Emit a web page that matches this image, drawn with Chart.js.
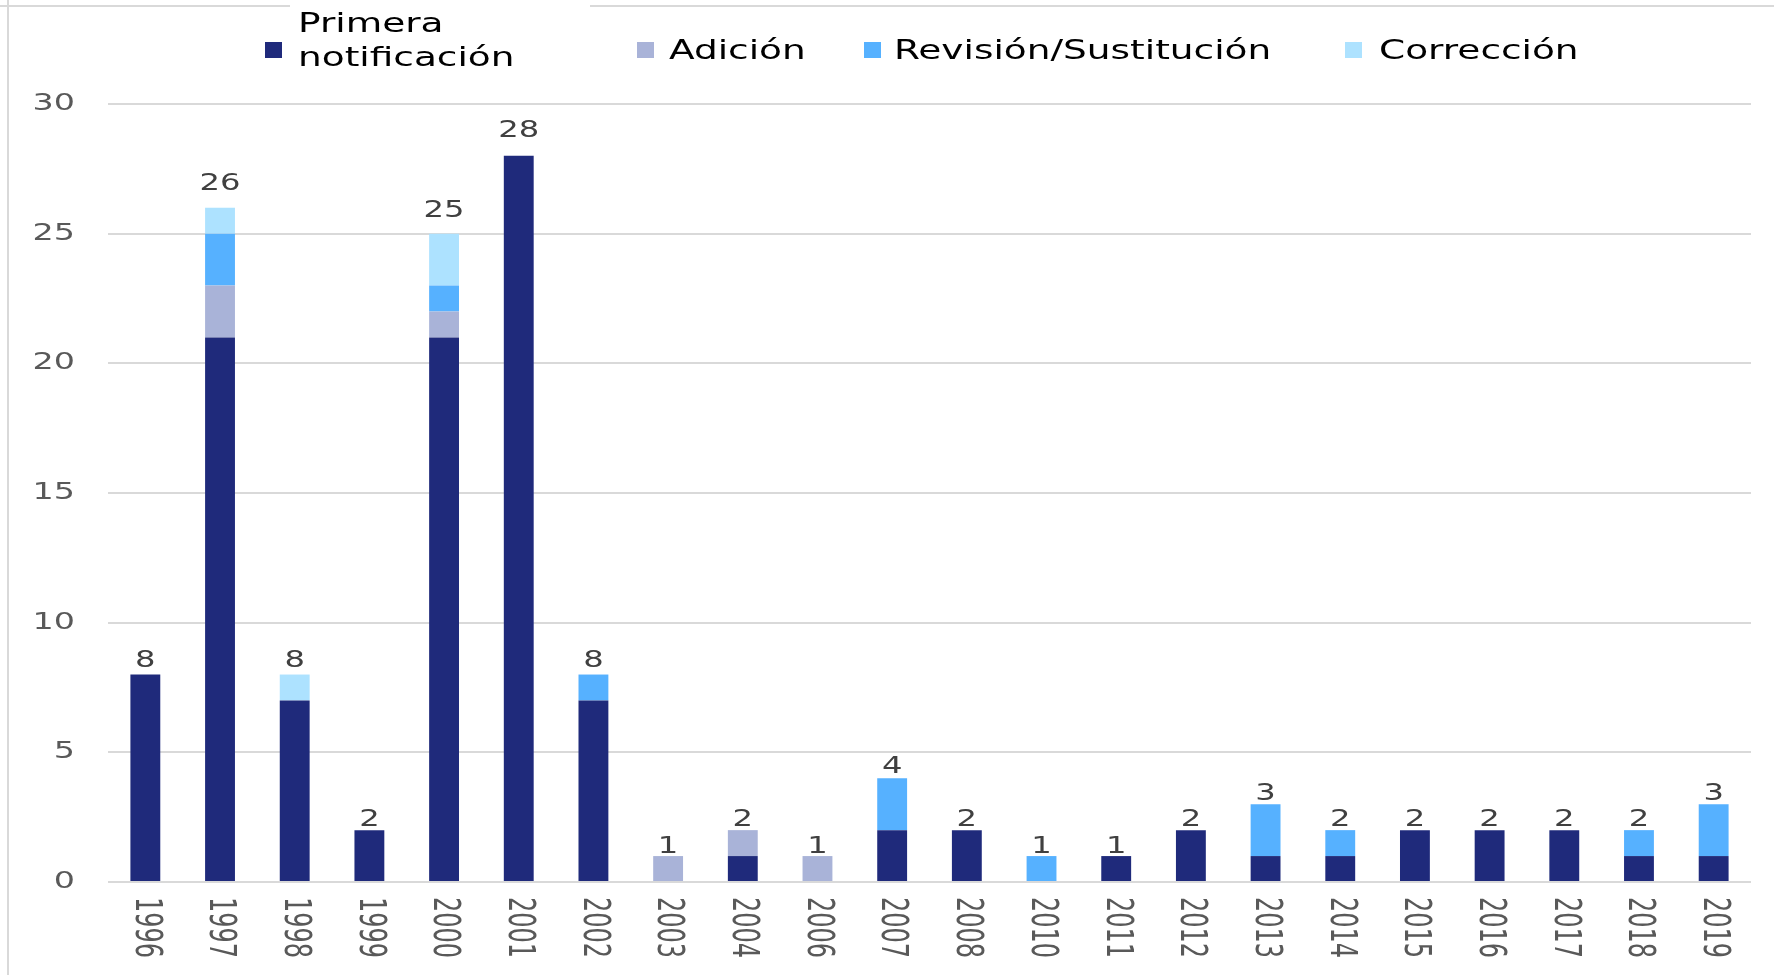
<!DOCTYPE html>
<html>
<head>
<meta charset="utf-8">
<script src="https://cdn.jsdelivr.net/npm/chart.js@4"></script>
<style>
html,body{margin:0;padding:0;background:#fff;}
#c{display:block;}
</style>
</head>
<body>
<canvas id="c" width="1774" height="975"></canvas>
<script>
const categories = ['1996','1997','1998','1999','2000','2001','2002','2003','2004','2006','2007','2008','2010','2011','2012','2013','2014','2015','2016','2017','2018','2019'];
const seriesNames = ['Primera notificación','Adición','Revisión/Sustitución','Corrección'];
const primera    = [8,21,7,2,21,28,7,0,1,0,2,2,0,1,2,1,1,2,2,2,1,1];
const adicion    = [0,2,0,0,1,0,0,1,1,1,0,0,0,0,0,0,0,0,0,0,0,0];
const revision   = [0,2,0,0,1,0,1,0,0,0,2,0,1,0,0,2,1,0,0,0,1,2];
const correccion = [0,1,1,0,2,0,0,0,0,0,0,0,0,0,0,0,0,0,0,0,0,0];
const yTicks = [0,5,10,15,20,25,30];

const colors = ['#1F2A7B','#A9B3D8','#56B1FF','#ADE2FF'];
const SX = 1.4;
const FONT = 'DejaVu Sans';

function sText(ctx, text, x, y, opt) {
  ctx.save();
  ctx.translate(x, y);
  ctx.scale(opt.sx || SX, 1);
  if (opt.rot) ctx.rotate(opt.rot);
  ctx.font = opt.font;
  ctx.fillStyle = opt.color;
  ctx.textAlign = opt.align || 'left';
  ctx.textBaseline = opt.baseline || 'alphabetic';
  ctx.fillText(text, 0, 0);
  ctx.restore();
}

const customDraw = {
  id: 'customDraw',
  beforeDraw(chart) {
    const ctx = chart.ctx;
    ctx.save();
    ctx.fillStyle = '#fff';
    ctx.fillRect(0, 0, chart.width, chart.height);
    ctx.strokeStyle = '#d9d9d9';
    ctx.lineWidth = 2;
    ctx.beginPath();
    ctx.moveTo(8, 0); ctx.lineTo(8, 975);
    ctx.moveTo(0, 6); ctx.lineTo(290, 6);
    ctx.moveTo(590, 6); ctx.lineTo(1774, 6);
    ctx.stroke();
    ctx.restore();
  },
  afterDraw(chart) {
    const ctx = chart.ctx;
    const xs = chart.scales.x, ys = chart.scales.y;
    // y tick labels
    yTicks.forEach(v => {
      sText(ctx, String(v), 75, ys.getPixelForValue(v), {font: '23px ' + FONT, color: '#595959', align: 'right', baseline: 'middle', sx: 1.45});
    });
    // x tick labels, rotated clockwise
    categories.forEach((c, i) => {
      sText(ctx, c, xs.getPixelForValue(i), 897, {font: '24px ' + FONT, color: '#595959', align: 'left', baseline: 'middle', rot: Math.PI / 2, sx: 1.55});
    });
    // totals
    categories.forEach((c, i) => {
      const total = primera[i] + adicion[i] + revision[i] + correccion[i];
      const gap = 3 + 0.55 * total;
      sText(ctx, String(total), xs.getPixelForValue(i), ys.getPixelForValue(total) - gap, {font: '23px ' + FONT, color: '#404040', align: 'center', baseline: 'alphabetic'});
    });
    // legend
    const lg = [
      {mx: 265, tx: 298, lines: ['Primera', 'notificación']},
      {mx: 637, tx: 669, lines: ['Adición']},
      {mx: 864, tx: 894, lines: ['Revisión/Sustitución']},
      {mx: 1345, tx: 1379, lines: ['Corrección']}
    ];
    lg.forEach((it, k) => {
      ctx.fillStyle = colors[k];
      ctx.fillRect(it.mx, 42, 17, 16);
      const o = {font: '26px ' + FONT, color: '#000', baseline: 'middle', sx: 1.44};
      if (it.lines.length === 2) {
        sText(ctx, it.lines[0], it.tx, 25, o);
        sText(ctx, it.lines[1], it.tx, 59, o);
      } else {
        sText(ctx, it.lines[0], it.tx, 52, o);
      }
    });
  }
};

const dataArrays = [primera, adicion, revision, correccion];
new Chart(document.getElementById('c'), {
  type: 'bar',
  data: {
    labels: categories,
    datasets: dataArrays.map((d, k) => ({
      label: seriesNames[k],
      data: d,
      backgroundColor: colors[k],
      borderWidth: 0,
      barPercentage: 0.4,
      categoryPercentage: 1.0
    }))
  },
  options: {
    responsive: false,
    animation: false,
    devicePixelRatio: 1,
    layout: {padding: {left: 108, right: 23, top: 104, bottom: 93}},
    plugins: {legend: {display: false}, tooltip: {enabled: false}},
    scales: {
      x: {stacked: true, display: false},
      y: {
        stacked: true, min: 0, max: 30,
        ticks: {display: false, stepSize: 5},
        grid: {color: '#d9d9d9', lineWidth: 2, drawTicks: false},
        border: {display: false}
      }
    }
  },
  plugins: [customDraw]
});
</script>
</body>
</html>
